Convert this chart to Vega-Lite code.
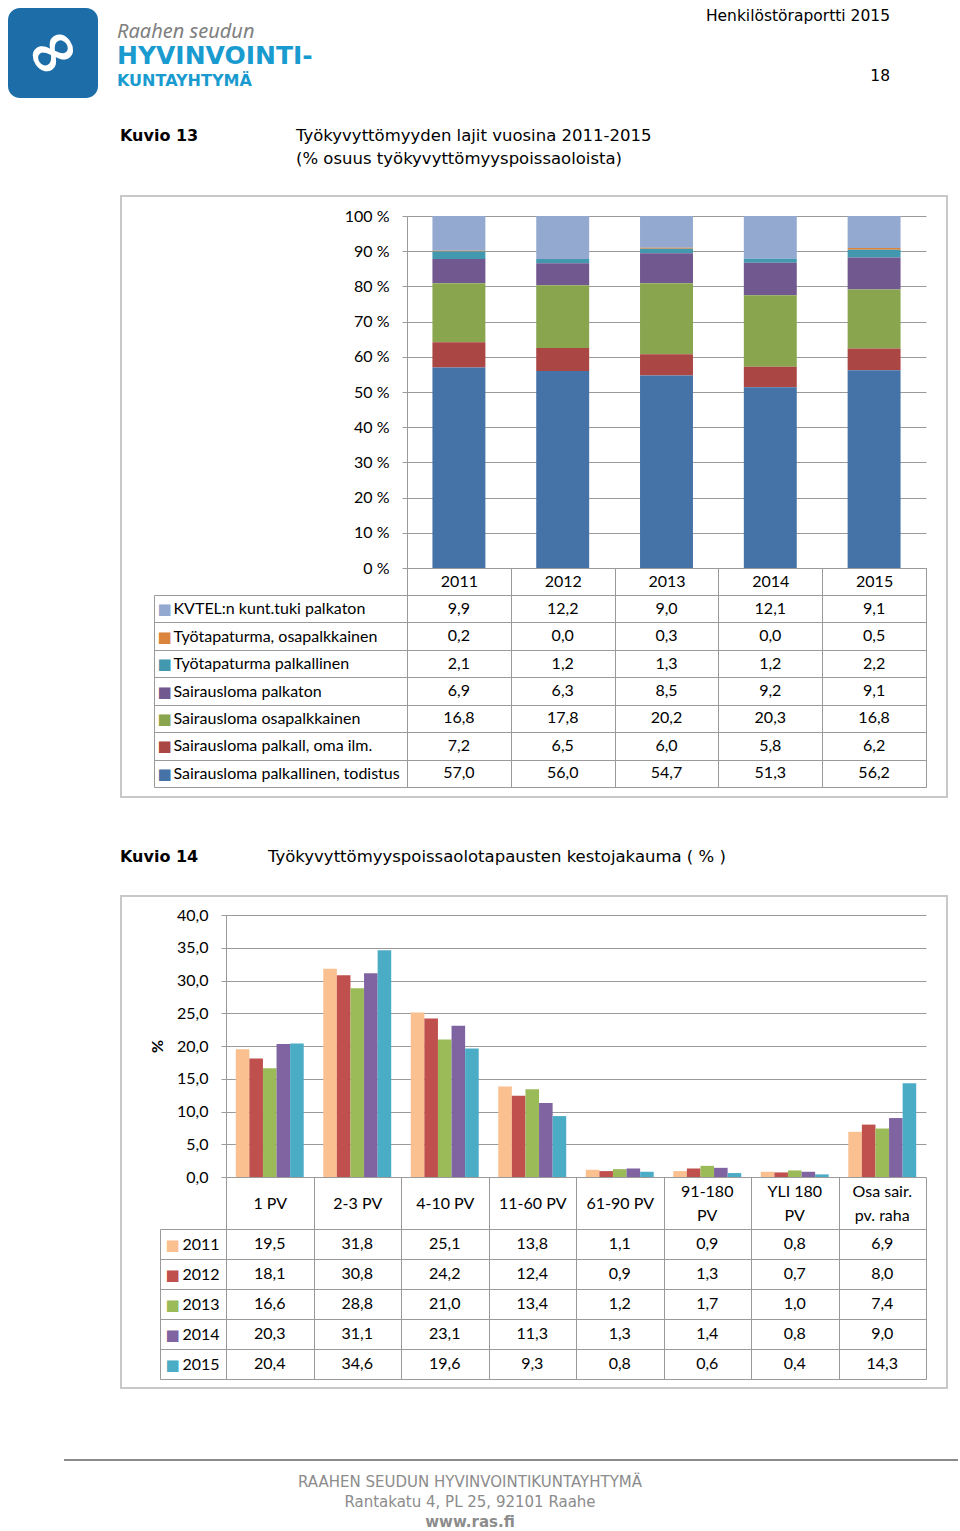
{
  "$schema": "https://vega.github.io/schema/vega-lite/v6.json",
  "padding": 0,
  "background": "white",
  "spacing": 0,
  "resolve": {"scale": {"color": "independent"}},
  "config": {
    "font": "Lato",
    "view": {"stroke": null},
    "locale": {"number": {"decimal": ",", "thousands": " ", "grouping": [3], "currency": ["", " €"]}},
    "axis": {"labelFont": "Lato", "labelColor": "#000", "titleColor": "#000"}
  },
  "datasets": {
    "tab1": [
      {"year": "2011", "series": "KVTEL:n kunt.tuki palkaton", "seriesNo": 1, "value": 9.9},
      {"year": "2012", "series": "KVTEL:n kunt.tuki palkaton", "seriesNo": 1, "value": 12.2},
      {"year": "2013", "series": "KVTEL:n kunt.tuki palkaton", "seriesNo": 1, "value": 9.0},
      {"year": "2014", "series": "KVTEL:n kunt.tuki palkaton", "seriesNo": 1, "value": 12.1},
      {"year": "2015", "series": "KVTEL:n kunt.tuki palkaton", "seriesNo": 1, "value": 9.1},
      {"year": "2011", "series": "Työtapaturma, osapalkkainen", "seriesNo": 2, "value": 0.2},
      {"year": "2012", "series": "Työtapaturma, osapalkkainen", "seriesNo": 2, "value": 0.0},
      {"year": "2013", "series": "Työtapaturma, osapalkkainen", "seriesNo": 2, "value": 0.3},
      {"year": "2014", "series": "Työtapaturma, osapalkkainen", "seriesNo": 2, "value": 0.0},
      {"year": "2015", "series": "Työtapaturma, osapalkkainen", "seriesNo": 2, "value": 0.5},
      {"year": "2011", "series": "Työtapaturma palkallinen", "seriesNo": 3, "value": 2.1},
      {"year": "2012", "series": "Työtapaturma palkallinen", "seriesNo": 3, "value": 1.2},
      {"year": "2013", "series": "Työtapaturma palkallinen", "seriesNo": 3, "value": 1.3},
      {"year": "2014", "series": "Työtapaturma palkallinen", "seriesNo": 3, "value": 1.2},
      {"year": "2015", "series": "Työtapaturma palkallinen", "seriesNo": 3, "value": 2.2},
      {"year": "2011", "series": "Sairausloma palkaton", "seriesNo": 4, "value": 6.9},
      {"year": "2012", "series": "Sairausloma palkaton", "seriesNo": 4, "value": 6.3},
      {"year": "2013", "series": "Sairausloma palkaton", "seriesNo": 4, "value": 8.5},
      {"year": "2014", "series": "Sairausloma palkaton", "seriesNo": 4, "value": 9.2},
      {"year": "2015", "series": "Sairausloma palkaton", "seriesNo": 4, "value": 9.1},
      {"year": "2011", "series": "Sairausloma osapalkkainen", "seriesNo": 5, "value": 16.8},
      {"year": "2012", "series": "Sairausloma osapalkkainen", "seriesNo": 5, "value": 17.8},
      {"year": "2013", "series": "Sairausloma osapalkkainen", "seriesNo": 5, "value": 20.2},
      {"year": "2014", "series": "Sairausloma osapalkkainen", "seriesNo": 5, "value": 20.3},
      {"year": "2015", "series": "Sairausloma osapalkkainen", "seriesNo": 5, "value": 16.8},
      {"year": "2011", "series": "Sairausloma palkall, oma ilm.", "seriesNo": 6, "value": 7.2},
      {"year": "2012", "series": "Sairausloma palkall, oma ilm.", "seriesNo": 6, "value": 6.5},
      {"year": "2013", "series": "Sairausloma palkall, oma ilm.", "seriesNo": 6, "value": 6.0},
      {"year": "2014", "series": "Sairausloma palkall, oma ilm.", "seriesNo": 6, "value": 5.8},
      {"year": "2015", "series": "Sairausloma palkall, oma ilm.", "seriesNo": 6, "value": 6.2},
      {"year": "2011", "series": "Sairausloma palkallinen, todistus", "seriesNo": 7, "value": 57.0},
      {"year": "2012", "series": "Sairausloma palkallinen, todistus", "seriesNo": 7, "value": 56.0},
      {"year": "2013", "series": "Sairausloma palkallinen, todistus", "seriesNo": 7, "value": 54.7},
      {"year": "2014", "series": "Sairausloma palkallinen, todistus", "seriesNo": 7, "value": 51.3},
      {"year": "2015", "series": "Sairausloma palkallinen, todistus", "seriesNo": 7, "value": 56.2}
    ],
    "tab2": [
      {"cat": "1 PV", "year": "2011", "value": 19.5},
      {"cat": "1 PV", "year": "2012", "value": 18.1},
      {"cat": "1 PV", "year": "2013", "value": 16.6},
      {"cat": "1 PV", "year": "2014", "value": 20.3},
      {"cat": "1 PV", "year": "2015", "value": 20.4},
      {"cat": "2-3 PV", "year": "2011", "value": 31.8},
      {"cat": "2-3 PV", "year": "2012", "value": 30.8},
      {"cat": "2-3 PV", "year": "2013", "value": 28.8},
      {"cat": "2-3 PV", "year": "2014", "value": 31.1},
      {"cat": "2-3 PV", "year": "2015", "value": 34.6},
      {"cat": "4-10 PV", "year": "2011", "value": 25.1},
      {"cat": "4-10 PV", "year": "2012", "value": 24.2},
      {"cat": "4-10 PV", "year": "2013", "value": 21.0},
      {"cat": "4-10 PV", "year": "2014", "value": 23.1},
      {"cat": "4-10 PV", "year": "2015", "value": 19.6},
      {"cat": "11-60 PV", "year": "2011", "value": 13.8},
      {"cat": "11-60 PV", "year": "2012", "value": 12.4},
      {"cat": "11-60 PV", "year": "2013", "value": 13.4},
      {"cat": "11-60 PV", "year": "2014", "value": 11.3},
      {"cat": "11-60 PV", "year": "2015", "value": 9.3},
      {"cat": "61-90 PV", "year": "2011", "value": 1.1},
      {"cat": "61-90 PV", "year": "2012", "value": 0.9},
      {"cat": "61-90 PV", "year": "2013", "value": 1.2},
      {"cat": "61-90 PV", "year": "2014", "value": 1.3},
      {"cat": "61-90 PV", "year": "2015", "value": 0.8},
      {"cat": "91-180 PV", "year": "2011", "value": 0.9},
      {"cat": "91-180 PV", "year": "2012", "value": 1.3},
      {"cat": "91-180 PV", "year": "2013", "value": 1.7},
      {"cat": "91-180 PV", "year": "2014", "value": 1.4},
      {"cat": "91-180 PV", "year": "2015", "value": 0.6},
      {"cat": "YLI 180 PV", "year": "2011", "value": 0.8},
      {"cat": "YLI 180 PV", "year": "2012", "value": 0.7},
      {"cat": "YLI 180 PV", "year": "2013", "value": 1.0},
      {"cat": "YLI 180 PV", "year": "2014", "value": 0.8},
      {"cat": "YLI 180 PV", "year": "2015", "value": 0.4},
      {"cat": "Osa sair. pv. raha", "year": "2011", "value": 6.9},
      {"cat": "Osa sair. pv. raha", "year": "2012", "value": 8.0},
      {"cat": "Osa sair. pv. raha", "year": "2013", "value": 7.4},
      {"cat": "Osa sair. pv. raha", "year": "2014", "value": 9.0},
      {"cat": "Osa sair. pv. raha", "year": "2015", "value": 14.3}
    ]
  },
  "vconcat": [
    {
      "spacing": 0,
      "hconcat": [
        {"width": 8, "height": 110, "data": {"values": [{}]}, "mark": {"type": "point", "opacity": 0, "size": 0}, "encoding": {}},
        {
          "spacing": 0,
          "vconcat": [
            {"width": 90, "height": 8, "data": {"values": [{}]}, "mark": {"type": "point", "opacity": 0, "size": 0}, "encoding": {}},
            {"width": 90, "height": 90, "view": {"fill": "#1d6ea8", "cornerRadius": 12, "stroke": null}, "data": {"values": [{}]},
             "mark": {"type": "text", "font": "DejaVu Sans", "fontSize": 64, "fontWeight": "bold", "color": "white", "angle": -35},
             "encoding": {"text": {"value": "∞"}}},
            {"width": 90, "height": 12, "data": {"values": [{}]}, "mark": {"type": "point", "opacity": 0, "size": 0}, "encoding": {}}
          ]
        },
        {
          "spacing": 0,
          "vconcat": [
            {"width": 380, "height": 70, "data": {"values": [{}]}, "mark": {"type": "point", "opacity": 0, "size": 0}, "encoding": {},
             "title": {"text": "Raahen seudun", "subtitle": "HYVINVOINTI-", "anchor": "start", "frame": "group", "dx": 19, "offset": -69,
                       "font": "Noto Sans", "fontSize": 20, "fontStyle": "italic", "fontWeight": "normal", "color": "#7f7f7f",
                       "subtitleFont": "DejaVu Sans", "subtitleFontSize": 25, "subtitleFontWeight": "bold", "subtitleColor": "#1a9bcf", "subtitlePadding": 2}},
            {"width": 380, "height": 40, "data": {"values": [{}]}, "mark": {"type": "point", "opacity": 0, "size": 0}, "encoding": {},
             "title": {"text": "KUNTAYHTYMÄ", "anchor": "start", "frame": "group", "dx": 19, "offset": -19,
                       "font": "DejaVu Sans", "fontSize": 16, "fontWeight": "bold", "color": "#1a9bcf"}}
          ]
        },
        {"width": 412, "height": 110, "data": {"values": [{}]}, "mark": {"type": "point", "opacity": 0, "size": 0}, "encoding": {},
         "title": {"text": "Henkilöstöraportti 2015", "subtitle": "18", "anchor": "end", "frame": "group", "offset": -84.5,
                   "font": "DejaVu Sans", "fontSize": 15.5, "fontWeight": "normal", "color": "#000",
                   "subtitleFont": "DejaVu Sans", "subtitleFontSize": 15.5, "subtitleColor": "#000", "subtitlePadding": 44.5}}
      ]
    },
    {
      "spacing": 0,
      "hconcat": [
        {"width": 296, "height": 77, "data": {"values": [{}]}, "mark": {"type": "point", "opacity": 0, "size": 0}, "encoding": {},
         "title": {"text": "Kuvio 13", "anchor": "start", "frame": "group", "dx": 120, "offset": -34,
                   "font": "DejaVu Sans", "fontSize": 16, "fontWeight": "bold", "color": "#000"}},
        {"width": 420, "height": 77, "data": {"values": [{}]}, "mark": {"type": "point", "opacity": 0, "size": 0}, "encoding": {},
         "title": {"text": ["Työkyvyttömyyden lajit vuosina 2011-2015", "(% osuus työkyvyttömyyspoissaoloista)"], "anchor": "start", "frame": "group", "offset": -57.5,
                   "lineHeight": 23, "font": "DejaVu Sans", "fontSize": 16.5, "fontWeight": "normal", "color": "#000"}}
      ]
    },
    {
      "spacing": 0,
      "hconcat": [
        {"width": 120, "height": 601, "data": {"values": [{}]}, "mark": {"type": "point", "opacity": 0, "size": 0}, "encoding": {}},
        {
          "width": 826, "height": 601,
          "view": {"stroke": "#c8c8c8", "strokeWidth": 2},
          "data": {"name": "tab1"},
          "resolve": {"scale": {"y": "independent"}, "axis": {"x": "independent", "y": "independent"}},
          "layer": [
            {
              "mark": {"type": "bar", "width": {"band": 0.51}},
              "encoding": {
                "x": {"field": "year", "type": "nominal", "scale": {"range": [286, 805], "paddingInner": 0, "paddingOuter": 0}, "axis": null},
                "y": {"field": "value", "type": "quantitative", "stack": "normalize",
                      "scale": {"domain": [0, 1], "range": [372, 20], "nice": false},
                      "axis": {"orient": "left", "offset": -286, "title": null, "values": [0, 0.1, 0.2, 0.3, 0.4, 0.5, 0.6, 0.7, 0.8, 0.9, 1],
                               "labelExpr": "round(datum.value * 100) + ' %'", "grid": true, "gridColor": "#9a9a9a", "domain": true, "domainColor": "#9a9a9a",
                               "ticks": true, "tickColor": "#9a9a9a", "tickSize": 5, "labelPadding": 13, "labelFontSize": 16, "labelColor": "#000"}},
                "color": {"field": "series", "type": "nominal",
                          "scale": {"domain": ["KVTEL:n kunt.tuki palkaton", "Työtapaturma, osapalkkainen", "Työtapaturma palkallinen", "Sairausloma palkaton", "Sairausloma osapalkkainen", "Sairausloma palkall, oma ilm.", "Sairausloma palkallinen, todistus"],
                                    "range": ["#93A9CF", "#DB843D", "#4198AF", "#71588F", "#89A54E", "#AA4643", "#4572A7"]},
                          "legend": null},
                "order": {"field": "seriesNo", "type": "quantitative", "sort": "descending"}
              }
            },
            {
              "mark": {"type": "text", "fontSize": 16, "color": "#000"},
              "encoding": {
                "x": {"field": "year", "type": "nominal", "scale": {"range": [286, 805], "paddingInner": 0, "paddingOuter": 0},
                      "axis": {"orient": "top", "offset": -399, "title": null, "domain": true, "domainColor": "#9a9a9a",
                               "ticks": true, "tickBand": "extent", "tickSize": 27.4, "tickColor": "#9a9a9a",
                               "grid": true, "gridColor": "#9a9a9a", "labelPadding": -13.7, "labelBaseline": "middle", "labelAngle": 0,
                               "labelFontSize": 16, "labelColor": "#000"}},
                "y": {"field": "series", "type": "nominal",
                      "scale": {"domain": ["KVTEL:n kunt.tuki palkaton", "Työtapaturma, osapalkkainen", "Työtapaturma palkallinen", "Sairausloma palkaton", "Sairausloma osapalkkainen", "Sairausloma palkall, oma ilm.", "Sairausloma palkallinen, todistus"],
                                "range": [399, 591], "paddingInner": 0, "paddingOuter": 0},
                      "axis": {"orient": "left", "offset": -805, "title": null, "domain": true, "domainColor": "#9a9a9a",
                               "ticks": true, "tickBand": "extent", "tickSize": 772, "tickColor": "#9a9a9a", "grid": false,
                               "labelAlign": "left", "labelBaseline": "middle", "labelPadding": -19, "labelFontSize": 16, "labelColor": "#000", "labelLimit": 400}},
                "text": {"field": "value", "type": "quantitative", "format": ".1f"}
              }
            },
            {
              "mark": {"type": "text", "opacity": 0},
              "encoding": {
                "y": {"field": "series", "type": "nominal",
                      "scale": {"domain": ["KVTEL:n kunt.tuki palkaton", "Työtapaturma, osapalkkainen", "Työtapaturma palkallinen", "Sairausloma palkaton", "Sairausloma osapalkkainen", "Sairausloma palkall, oma ilm.", "Sairausloma palkallinen, todistus"],
                                "range": [399, 591], "paddingInner": 0, "paddingOuter": 0},
                      "axis": {"orient": "left", "offset": -33, "title": null, "domain": true, "domainColor": "#9a9a9a",
                               "ticks": false, "grid": false, "labelExpr": "'■'", "labelAlign": "center", "labelBaseline": "middle",
                               "labelPadding": -10, "labelFont": "DejaVu Sans", "labelFontSize": 15,
                               "labelColor": {"condition": [
                                 {"test": "datum.value === 'KVTEL:n kunt.tuki palkaton'", "value": "#93A9CF"},
                                 {"test": "datum.value === 'Työtapaturma, osapalkkainen'", "value": "#DB843D"},
                                 {"test": "datum.value === 'Työtapaturma palkallinen'", "value": "#4198AF"},
                                 {"test": "datum.value === 'Sairausloma palkaton'", "value": "#71588F"},
                                 {"test": "datum.value === 'Sairausloma osapalkkainen'", "value": "#89A54E"},
                                 {"test": "datum.value === 'Sairausloma palkall, oma ilm.'", "value": "#AA4643"}
                               ], "value": "#4572A7"}}},
                "text": {"value": ""}
              }
            }
          ]
        }
      ]
    },
    {
      "spacing": 0,
      "hconcat": [
        {"width": 268, "height": 89, "data": {"values": [{}]}, "mark": {"type": "point", "opacity": 0, "size": 0}, "encoding": {},
         "title": {"text": "Kuvio 14", "anchor": "start", "frame": "group", "dx": 120, "offset": -67,
                   "font": "DejaVu Sans", "fontSize": 16, "fontWeight": "bold", "color": "#000"}},
        {"width": 520, "height": 89, "data": {"values": [{}]}, "mark": {"type": "point", "opacity": 0, "size": 0}, "encoding": {},
         "title": {"text": "Työkyvyttömyyspoissaolotapausten kestojakauma ( % )", "anchor": "start", "frame": "group", "offset": -67.5,
                   "font": "DejaVu Sans", "fontSize": 16.5, "fontWeight": "normal", "color": "#000"}}
      ]
    },
    {
      "spacing": 0,
      "hconcat": [
        {"width": 120, "height": 492, "data": {"values": [{}]}, "mark": {"type": "point", "opacity": 0, "size": 0}, "encoding": {}},
        {
          "width": 826, "height": 492,
          "view": {"stroke": "#c8c8c8", "strokeWidth": 2},
          "data": {"name": "tab2"},
          "resolve": {"scale": {"y": "independent"}, "axis": {"x": "independent", "y": "independent"}},
          "layer": [
            {
              "mark": {"type": "bar"},
              "encoding": {
                "x": {"field": "cat", "type": "nominal",
                      "scale": {"domain": ["1 PV", "2-3 PV", "4-10 PV", "11-60 PV", "61-90 PV", "91-180 PV", "YLI 180 PV", "Osa sair. pv. raha"],
                                "range": [105, 805], "paddingInner": 0, "paddingOuter": 0},
                      "axis": {"orient": "top", "offset": -333, "title": null, "domain": false, "ticks": false, "grid": false,
                               "labelPadding": 38, "labelBaseline": "middle", "labelAngle": 0, "labelLineHeight": 24,
                               "labelFontSize": 16, "labelColor": "#000",
                               "labelExpr": "datum.label == '91-180 PV' ? ['91-180', 'PV'] : datum.label == 'YLI 180 PV' ? ['YLI 180', 'PV'] : datum.label == 'Osa sair. pv. raha' ? ['Osa sair.', 'pv. raha'] : ''"}},
                "xOffset": {"field": "year", "type": "nominal", "scale": {"domain": ["2011", "2012", "2013", "2014", "2015"], "paddingInner": 0, "paddingOuter": 0.72}},
                "y": {"field": "value", "type": "quantitative", "stack": null,
                      "scale": {"domain": [0, 40], "range": [281, 19], "nice": false},
                      "axis": {"orient": "left", "offset": -105, "values": [0, 5, 10, 15, 20, 25, 30, 35, 40], "format": ".1f",
                               "title": "%", "titleAngle": 270, "titleX": -69, "titleY": 150, "titleFontSize": 16, "titleFontWeight": "bold",
                               "titleAlign": "center", "titleBaseline": "middle", "titleColor": "#000",
                               "grid": true, "gridColor": "#9a9a9a", "domain": true, "domainColor": "#9a9a9a",
                               "ticks": true, "tickColor": "#9a9a9a", "tickSize": 5, "labelPadding": 13, "labelFontSize": 16, "labelColor": "#000"}},
                "color": {"field": "year", "type": "nominal",
                          "scale": {"domain": ["2011", "2012", "2013", "2014", "2015"], "range": ["#FAC090", "#C0504D", "#9BBB59", "#8064A2", "#4BACC6"]},
                          "legend": null}
              }
            },
            {
              "mark": {"type": "text", "fontSize": 16, "color": "#000"},
              "encoding": {
                "x": {"field": "cat", "type": "nominal",
                      "scale": {"domain": ["1 PV", "2-3 PV", "4-10 PV", "11-60 PV", "61-90 PV", "91-180 PV", "YLI 180 PV", "Osa sair. pv. raha"],
                                "range": [105, 805], "paddingInner": 0, "paddingOuter": 0},
                      "axis": {"orient": "top", "offset": -333, "title": null, "domain": true, "domainColor": "#9a9a9a",
                               "ticks": true, "tickBand": "extent", "tickSize": 52, "tickColor": "#9a9a9a",
                               "grid": true, "gridColor": "#9a9a9a", "labelPadding": -26, "labelBaseline": "middle", "labelAngle": 0,
                               "labelFontSize": 16, "labelColor": "#000",
                               "labelExpr": "(datum.label == '91-180 PV' || datum.label == 'YLI 180 PV' || datum.label == 'Osa sair. pv. raha') ? '' : datum.label"}},
                "y": {"field": "year", "type": "nominal",
                      "scale": {"domain": ["2011", "2012", "2013", "2014", "2015"], "range": [333, 483], "paddingInner": 0, "paddingOuter": 0},
                      "axis": {"orient": "left", "offset": -805, "title": null, "domain": true, "domainColor": "#9a9a9a",
                               "ticks": true, "tickBand": "extent", "tickSize": 766, "tickColor": "#9a9a9a", "grid": false,
                               "labelAlign": "left", "labelBaseline": "middle", "labelPadding": -22, "labelFontSize": 16, "labelColor": "#000"}},
                "text": {"field": "value", "type": "quantitative", "format": ".1f"}
              }
            },
            {
              "mark": {"type": "text", "opacity": 0},
              "encoding": {
                "y": {"field": "year", "type": "nominal",
                      "scale": {"domain": ["2011", "2012", "2013", "2014", "2015"], "range": [333, 483], "paddingInner": 0, "paddingOuter": 0},
                      "axis": {"orient": "left", "offset": -39, "title": null, "domain": true, "domainColor": "#9a9a9a",
                               "ticks": false, "grid": false, "labelExpr": "'■'", "labelAlign": "center", "labelBaseline": "middle",
                               "labelPadding": -12, "labelFont": "DejaVu Sans", "labelFontSize": 15,
                               "labelColor": {"condition": [
                                 {"test": "datum.value === '2011'", "value": "#FAC090"},
                                 {"test": "datum.value === '2012'", "value": "#C0504D"},
                                 {"test": "datum.value === '2013'", "value": "#9BBB59"},
                                 {"test": "datum.value === '2014'", "value": "#8064A2"}
                               ], "value": "#4BACC6"}}},
                "text": {"value": ""}
              }
            }
          ]
        }
      ]
    },
    {
      "spacing": 0,
      "vconcat": [
        {"width": 960, "height": 70, "data": {"values": [{}]}, "mark": {"type": "point", "opacity": 0, "size": 0}, "encoding": {}},
        {
          "spacing": 0,
          "hconcat": [
            {"width": 64, "height": 2, "data": {"values": [{}]}, "mark": {"type": "point", "opacity": 0, "size": 0}, "encoding": {}},
            {"width": 894, "height": 2, "view": {"fill": "#8a8a8a", "stroke": null}, "data": {"values": [{}]}, "mark": {"type": "point", "opacity": 0, "size": 0}, "encoding": {}}
          ]
        },
        {
          "spacing": 0,
          "hconcat": [
            {"width": 200, "height": 69, "data": {"values": [{}]}, "mark": {"type": "point", "opacity": 0, "size": 0}, "encoding": {}},
            {"width": 540, "height": 69, "data": {"values": [{}]}, "mark": {"type": "point", "opacity": 0, "size": 0}, "encoding": {},
             "title": {"text": ["RAAHEN SEUDUN HYVINVOINTIKUNTAYHTYMÄ", "Rantakatu 4, PL 25, 92101 Raahe"], "subtitle": "www.ras.fi",
                       "anchor": "middle", "frame": "group", "offset": -69, "lineHeight": 20,
                       "font": "DejaVu Sans", "fontSize": 15, "fontWeight": "normal", "color": "#8c8c8c",
                       "subtitleFont": "DejaVu Sans", "subtitleFontSize": 15, "subtitleFontWeight": "bold", "subtitleColor": "#8c8c8c", "subtitlePadding": 5}}
          ]
        }
      ]
    }
  ]
}
